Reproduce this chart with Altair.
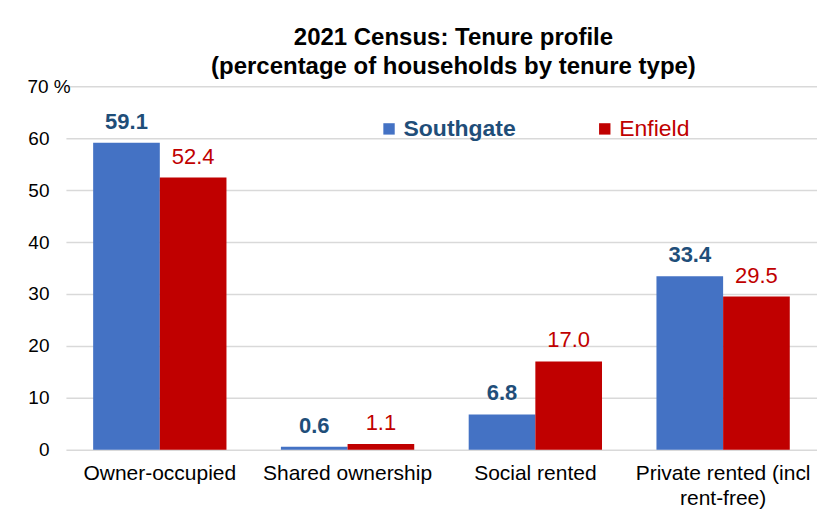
import altair as alt
import pandas as pd

categories = ["Owner-occupied", "Shared ownership", "Social rented", "Private rented (incl rent-free)"]
series = ["Southgate", "Enfield"]
southgate = [59.1, 0.6, 6.8, 33.4]
enfield = [52.4, 1.1, 17.0, 29.5]
bar_colors = ["#4472C4", "#C00000"]
label_colors = ["#1F4E79", "#C00000"]

rows = []
for c, s_val, e_val in zip(categories, southgate, enfield):
    rows.append({"category": c, "series": "Southgate", "value": s_val})
    rows.append({"category": c, "series": "Enfield", "value": e_val})
df = pd.DataFrame(rows)

FONT = "Liberation Sans"

x = alt.X(
    "category:N",
    sort=categories,
    title=None,
    scale=alt.Scale(paddingInner=0.29, paddingOuter=0.145),
    axis=alt.Axis(
        labelAngle=0,
        labelFontSize=21,
        labelColor="#000000",
        labelFont=FONT,
        labelPadding=13,
        ticks=False,
        domain=False,
        labelLimit=300,
        labelLineHeight=25,
        labelExpr="datum.label == 'Private rented (incl rent-free)' ? ['Private rented (incl', 'rent-free)'] : datum.label",
    ),
)
y = alt.Y(
    "value:Q",
    title=None,
    scale=alt.Scale(domain=[0, 70]),
    axis=alt.Axis(
        values=[0, 10, 20, 30, 40, 50, 60, 70],
        labelFontSize=19,
        labelColor="#000000",
        labelFont=FONT,
        labelPadding={"expr": "datum.value == 70 ? 39 : 17"},
        labelAlign={"expr": "datum.value == 70 ? 'left' : 'right'"},
        ticks=False,
        domain=False,
        grid=True,
        gridColor="#D9D9D9",
        gridWidth=1.5,
        labelExpr="datum.value == 70 ? '70 %' : datum.label",
    ),
)
xoff = alt.XOffset("series:N", sort=series)

bars = alt.Chart(df).mark_bar().encode(
    x=x,
    y=y,
    xOffset=xoff,
    color=alt.Color(
        "series:N",
        sort=series,
        scale=alt.Scale(domain=series, range=bar_colors),
        legend=alt.Legend(
            title=None,
            orient="none",
            legendX=312,
            legendY=31,
            direction="horizontal",
            symbolType="square",
            symbolSize=130,
            symbolStrokeWidth=0,
            labelFontSize=23,
            labelFont=FONT,
            labelOffset=3,
            columnPadding=77,
            labelColor={"expr": "datum.label == 'Southgate' ? '#1F4E79' : '#C00000'"},
            labelFontWeight={"expr": "datum.label == 'Southgate' ? 'bold' : 'normal'"},
        ),
    ),
)

text_s = alt.Chart(df).transform_filter(alt.datum.series == "Southgate").mark_text(
    fontSize=22, fontWeight="bold", font=FONT, color=label_colors[0], baseline="alphabetic", dy=-14
).encode(x=x, y=y, xOffset=xoff, text=alt.Text("value:Q", format=".1f"))

text_e = alt.Chart(df).transform_filter(alt.datum.series == "Enfield").mark_text(
    fontSize=22, font=FONT, color=label_colors[1], baseline="alphabetic", dy=-14
).encode(x=x, y=y, xOffset=xoff, text=alt.Text("value:Q", format=".1f"))

chart = alt.layer(bars, text_s, text_e).resolve_scale(xOffset="shared").properties(
    width=752,
    height=364,
    title=alt.TitleParams(
        text=["2021 Census: Tenure profile", "(percentage of households by tenure type)"],
        fontSize=24,
        font=FONT,
        fontWeight="bold",
        color="#000000",
        anchor="middle",
        dx=12,
        lineHeight=29,
        offset=-2,
    ),
    padding={"left": 19, "right": 0, "top": 18, "bottom": 0},
).configure_view(stroke=None).configure_scale(
    offsetBandPaddingInner=0
)

chart.save("out.html", embed_options={"renderer": "svg", "actions": False})
